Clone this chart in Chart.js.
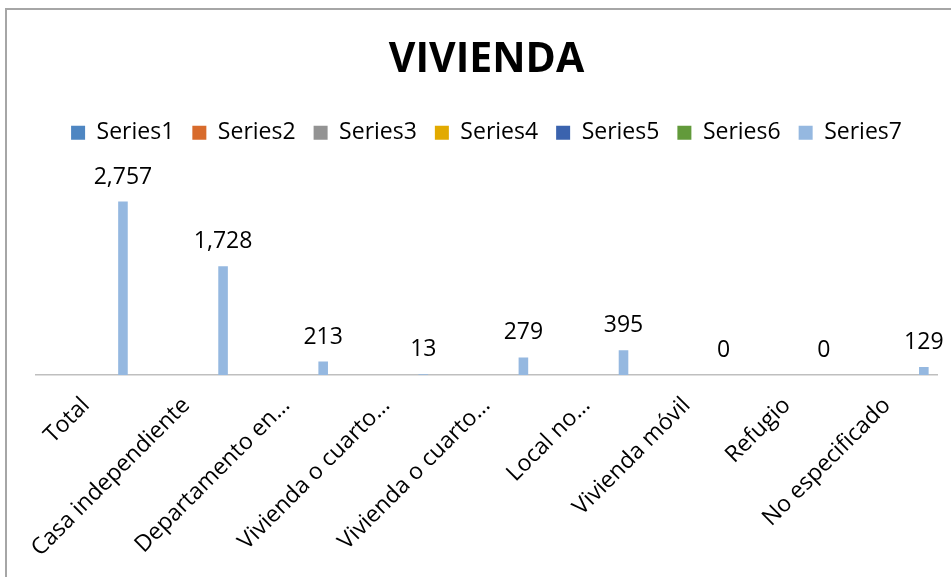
<!DOCTYPE html>
<html>
<head>
<meta charset="utf-8">
<script src="https://cdn.jsdelivr.net/npm/chart.js@4.4.1/dist/chart.umd.min.js"></script>
<style>
  body { margin: 0; background: #fff; }
  #wrap { position: relative; width: 951px; height: 577px; }
  #frame { position: absolute; left: 5px; top: 8px; right: 0; bottom: 0;
           border-left: 2px solid #a6a6a6; border-top: 2px solid #a6a6a6; }
  #chart { position: absolute; left: 0; top: 0; }
</style>
</head>
<body>
<div id="wrap">
  <div id="frame"></div>
  <canvas id="chart" width="951" height="577"></canvas>
</div>
<script>
// categories as printed under the axis (Excel cut the long ones)
var categories = ['Total', 'Casa independiente', 'Departamento en…', 'Vivienda o cuarto…',
  'Vivienda o cuarto…', 'Local no…', 'Vivienda móvil', 'Refugio', 'No especificado'];

var seriesNames = ['Series1', 'Series2', 'Series3', 'Series4', 'Series5', 'Series6', 'Series7'];

// only Series7 carries values, the others are empty
var series1 = [];
var series2 = [];
var series3 = [];
var series4 = [];
var series5 = [];
var series6 = [];
var series7 = [2757, 1728, 213, 13, 279, 395, 0, 0, 129];

var colors = ['#4e86c2', '#d86b2c', '#939393', '#e2aa00', '#3b63ae', '#629a3b', '#95b8e0'];
var allSeries = [series1, series2, series3, series4, series5, series6, series7];

var FONT = "'Open Sans', 'Liberation Sans', sans-serif";

var datasets = [];
for (var i = 0; i < seriesNames.length; i++) {
  datasets.push({
    label: seriesNames[i],
    data: allSeries[i],
    backgroundColor: colors[i],
    borderWidth: 0,
    categoryPercentage: 0.86,
    barPercentage: 0.78
  });
}

// value labels above the Series7 bars
var valueLabels = {
  id: 'valueLabels',
  afterDatasetsDraw: function (chart) {
    var ctx = chart.ctx;
    var meta = chart.getDatasetMeta(6);
    ctx.save();
    ctx.font = '23px ' + FONT;
    ctx.fillStyle = '#000';
    ctx.textAlign = 'center';
    ctx.textBaseline = 'alphabetic';
    meta.data.forEach(function (bar, idx) {
      var v = series7[idx];
      ctx.fillText(v.toLocaleString('en-US'), bar.x, bar.y - 18);
    });
    ctx.restore();
  }
};

var chart = new Chart(document.getElementById('chart'), {
  type: 'bar',
  data: { labels: categories, datasets: datasets },
  plugins: [valueLabels],
  options: {
    responsive: false,
    animation: false,
    layout: { padding: { left: 36, right: 14, top: 0, bottom: 0 } },
    plugins: {
      title: {
        display: true,
        text: 'VIVIENDA',
        color: '#000',
        font: { family: FONT, size: 41, weight: 'bold' },
        padding: { top: 36, bottom: 18 }
      },
      legend: {
        display: true,
        labels: {
          color: '#000',
          font: { family: FONT, size: 23 },
          boxWidth: 14,
          boxHeight: 14,
          padding: 18
        }
      },
      tooltip: { enabled: false }
    },
    scales: {
      x: {
        grid: { display: false },
        border: { display: true, color: '#bfbfbf', width: 1.5 },
        ticks: {
          color: '#000',
          font: { family: FONT, size: 23 },
          minRotation: 45,
          maxRotation: 45,
          autoSkip: false,
          padding: 9
        },
        afterFit: function (scale) { scale.height = 202; }
      },
      y: {
        display: false,
        min: 0,
        max: 3510
      }
    }
  }
});
</script>
</body>
</html>
